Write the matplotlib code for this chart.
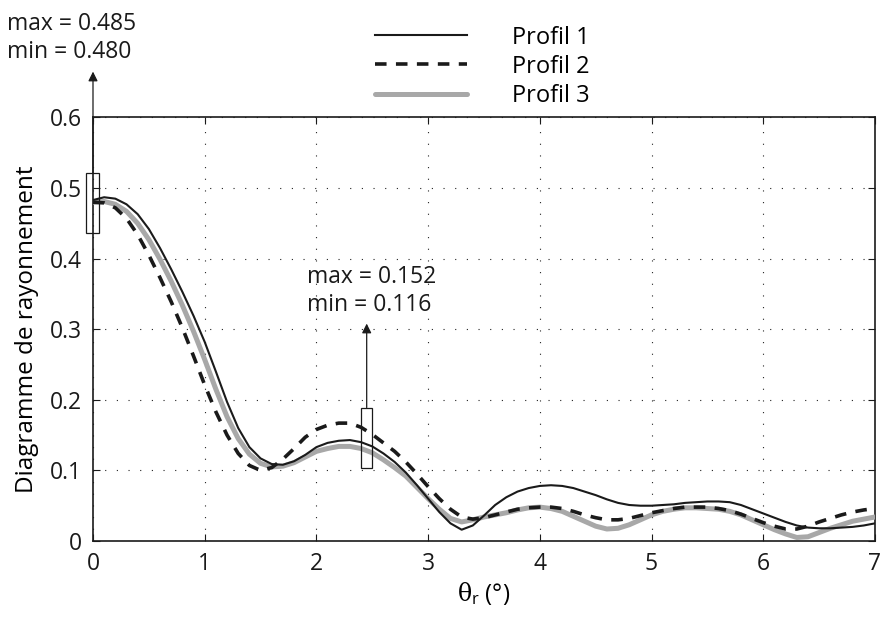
import matplotlib
matplotlib.use("Agg")
import matplotlib.pyplot as plt
from matplotlib.patches import Rectangle

plt.rcParams['font.family'] = ['Open Sans', 'DejaVu Sans']
plt.rcParams['mathtext.fontset'] = 'custom'
plt.rcParams['mathtext.rm'] = 'Open Sans'
plt.rcParams['mathtext.sf'] = 'DejaVu Serif'
plt.rcParams['mathtext.it'] = 'DejaVu Serif:italic'

theta = [0.0, 0.1, 0.2, 0.3, 0.4, 0.5, 0.6, 0.7, 0.8, 0.9,
         1.0, 1.1, 1.2, 1.3, 1.4, 1.5, 1.6, 1.7, 1.8, 1.9,
         2.0, 2.1, 2.2, 2.3, 2.4, 2.5, 2.6, 2.7, 2.8, 2.9,
         3.0, 3.1, 3.2, 3.3, 3.4, 3.5, 3.6, 3.7, 3.8, 3.9,
         4.0, 4.1, 4.2, 4.3, 4.4, 4.5, 4.6, 4.7, 4.8, 4.9,
         5.0, 5.1, 5.2, 5.3, 5.4, 5.5, 5.6, 5.7, 5.8, 5.9,
         6.0, 6.1, 6.2, 6.3, 6.4, 6.5, 6.6, 6.7, 6.8, 6.9, 7.0]

profil1 = [0.483, 0.487, 0.485, 0.477, 0.463, 0.442, 0.415, 0.385, 0.353, 0.319,
           0.282, 0.240, 0.197, 0.160, 0.133, 0.117, 0.109, 0.108, 0.113, 0.122,
           0.133, 0.139, 0.142, 0.143, 0.140, 0.134, 0.124, 0.112, 0.097, 0.079,
           0.060, 0.041, 0.025, 0.016, 0.022, 0.036, 0.051, 0.062, 0.070, 0.075,
           0.078, 0.079, 0.078, 0.075, 0.070, 0.065, 0.059, 0.054, 0.051, 0.050,
           0.050, 0.051, 0.052, 0.054, 0.055, 0.056, 0.056, 0.055, 0.051, 0.045,
           0.039, 0.033, 0.027, 0.022, 0.019, 0.018, 0.018, 0.019, 0.020, 0.022, 0.025]

profil2 = [0.480, 0.479, 0.472, 0.457, 0.434, 0.405, 0.373, 0.339, 0.302, 0.262,
           0.221, 0.183, 0.150, 0.124, 0.107, 0.100, 0.104, 0.116, 0.131, 0.147,
           0.158, 0.164, 0.167, 0.167, 0.161, 0.151, 0.139, 0.127, 0.112, 0.095,
           0.077, 0.060, 0.045, 0.034, 0.031, 0.033, 0.037, 0.041, 0.045, 0.047,
           0.048, 0.048, 0.046, 0.042, 0.037, 0.033, 0.030, 0.030, 0.032, 0.036,
           0.040, 0.043, 0.046, 0.048, 0.048, 0.048, 0.046, 0.043, 0.038, 0.032,
           0.026, 0.021, 0.017, 0.017, 0.021, 0.027, 0.032, 0.037, 0.041, 0.044, 0.046]

profil3 = [0.480, 0.481, 0.477, 0.467, 0.450, 0.427, 0.399, 0.368, 0.334, 0.297,
           0.257, 0.215, 0.176, 0.145, 0.123, 0.110, 0.105, 0.106, 0.111, 0.119,
           0.127, 0.131, 0.134, 0.134, 0.131, 0.125, 0.115, 0.104, 0.092, 0.076,
           0.060, 0.045, 0.032, 0.027, 0.030, 0.034, 0.037, 0.040, 0.044, 0.047,
           0.048, 0.046, 0.042, 0.035, 0.028, 0.021, 0.017, 0.018, 0.023, 0.030,
           0.037, 0.042, 0.045, 0.047, 0.047, 0.046, 0.045, 0.042, 0.037, 0.030,
           0.023, 0.016, 0.010, 0.005, 0.006, 0.012, 0.018, 0.023, 0.028, 0.031, 0.034]

labels = ["Profil 1", "Profil 2", "Profil 3"]
xticks = [0, 1, 2, 3, 4, 5, 6, 7]
yticks = [0, 0.1, 0.2, 0.3, 0.4, 0.5, 0.6]
ann1 = ["max = 0.485", "min = 0.480"]
ann2 = ["max = 0.152", "min = 0.116"]

fig = plt.figure(figsize=(8.84, 6.18), dpi=100)
ax = fig.add_axes([0.1052, 0.1246, 0.8846, 0.6853])

l3, = ax.plot(theta, profil3, color='#a8a8a8', lw=3.6, solid_capstyle='round',
              solid_joinstyle='round', zorder=3)
l1, = ax.plot(theta, profil1, color='#1a1a1a', lw=1.5, solid_joinstyle='round', zorder=4)
l2, = ax.plot(theta, profil2, color='#1a1a1a', lw=2.6, linestyle=(0, (3.2, 2.6)), zorder=5)

ax.set_xlim(0, 7)
ax.set_ylim(0, 0.6)
ax.set_xticks(xticks)
ax.set_yticks(yticks)
ax.set_xticklabels([str(v) for v in xticks])
ax.set_yticklabels(['0', '0.1', '0.2', '0.3', '0.4', '0.5', '0.6'])
ax.tick_params(direction='in', top=True, right=True, length=5, width=0.8,
               labelsize=16.5, pad=8, colors='#1a1a1a')
ax.grid(True, color='#222222', linestyle=(0, (1, 9.5)), lw=0.8)
for s in ax.spines.values():
    s.set_linewidth(1.2)
    s.set_color('#1a1a1a')

ax.set_xlabel(r'$\mathsf{\theta}_\mathrm{r}$ (°)', fontsize=17, labelpad=3)
ax.set_ylabel('Diagramme de rayonnement', fontsize=17.5, labelpad=8)

# annotation boxes
ax.add_patch(Rectangle((-0.06, 0.437), 0.11, 0.085, fill=False, lw=0.9,
                       edgecolor='#1a1a1a', clip_on=False, zorder=6))
ax.add_patch(Rectangle((2.40, 0.103), 0.10, 0.086, fill=False, lw=0.9,
                       edgecolor='#1a1a1a', clip_on=False, zorder=6))
ax.annotate('', xy=(0, 0.665), xytext=(0, 0.522), annotation_clip=False,
            arrowprops=dict(arrowstyle='-|>', lw=0.9, color='#1a1a1a',
                            mutation_scale=14, shrinkA=0, shrinkB=0))
ax.annotate('', xy=(2.45, 0.308), xytext=(2.45, 0.189), annotation_clip=False,
            arrowprops=dict(arrowstyle='-|>', lw=0.9, color='#1a1a1a',
                            mutation_scale=14, shrinkA=0, shrinkB=0))
ax.text(-0.77, 0.733, ann1[0], fontsize=16.5, va='center', ha='left', clip_on=False, color='#1a1a1a')
ax.text(-0.77, 0.693, ann1[1], fontsize=16.5, va='center', ha='left', clip_on=False, color='#1a1a1a')
ax.text(1.914, 0.374, ann2[0], fontsize=16.5, va='center', ha='left', color='#1a1a1a')
ax.text(1.914, 0.334, ann2[1], fontsize=16.5, va='center', ha='left', color='#1a1a1a')

fig.legend([l1, l2, l3], labels, loc='center', bbox_to_anchor=(0.546, 0.892),
           frameon=False, fontsize=17, handlelength=3.9, handletextpad=1.9,
           labelspacing=0.22, borderpad=0)

fig.savefig('out.png', dpi=100)
